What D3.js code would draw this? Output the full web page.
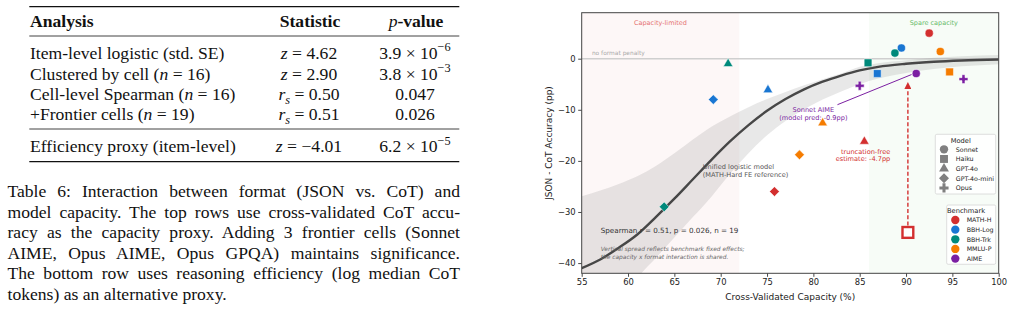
<!doctype html>
<html lang="en">
<head>
<meta charset="utf-8">
<title>Format x capacity interaction</title>
<script src="https://cdn.jsdelivr.net/npm/d3@7"></script>
<style>
  html, body { margin: 0; padding: 0; background: #fff; }
  svg { display: block; }
  .serif { font-family: "Liberation Serif", "Times New Roman", serif; fill: #111; }
  .sans { font-family: "DejaVu Sans", sans-serif; }
</style>
</head>
<body>
<svg id="fig" width="1013" height="318"></svg>
<script>
// ---------------- table (segments: [text, kind]) ----------------
const tableHeader = [
  [["Analysis", "b"]],
  [["Statistic", "b"]],
  [["p", "i"], ["-value", "b"]]
];
const analysisCol = [
  [["Item-level logistic (std. SE)"]],
  [["Clustered by cell ("], ["n", "i"], [" = 16)"]],
  [["Cell-level Spearman ("], ["n", "i"], [" = 16)"]],
  [["+Frontier cells ("], ["n", "i"], [" = 19)"]],
  [["Efficiency proxy (item-level)"]]
];
const statisticCol = [
  [["z", "i"], [" = 4.62"]],
  [["z", "i"], [" = 2.90"]],
  [["r", "i"], ["s", "subi"], [" = 0.50"]],
  [["r", "i"], ["s", "subi"], [" = 0.51"]],
  [["z", "i"], [" = \u22124.01"]]
];
const pvalueCol = [
  [["3.9 \u00d7 10"], ["\u22126", "sup"]],
  [["3.8 \u00d7 10"], ["\u22123", "sup"]],
  [["0.047"]],
  [["0.026"]],
  [["6.2 \u00d7 10"], ["\u22125", "sup"]]
];
const captionLines = [
  "Table 6: Interaction between format (JSON vs. CoT) and",
  "model capacity. The top rows use cross-validated CoT accu-",
  "racy as the capacity proxy. Adding 3 frontier cells (Sonnet",
  "AIME, Opus AIME, Opus GPQA) maintains significance.",
  "The bottom row uses reasoning efficiency (log median CoT",
  "tokens) as an alternative proxy."
];

// ---------------- chart data ----------------
const benchmarks = ["MATH-H", "BBH-Log", "BBH-Trk", "MMLU-P", "AIME"];
const benchColors = ["#d32f2f", "#1976d2", "#00897b", "#f57c00", "#7b1fa2"];
const models = ["Sonnet", "Haiku", "GPT-4o", "GPT-4o-mini", "Opus"];

// one entry per (model, benchmark) cell
const cellModel = ["Sonnet", "Sonnet", "Sonnet", "Sonnet", "Sonnet",
                   "Haiku", "Haiku", "Haiku",
                   "GPT-4o", "GPT-4o", "GPT-4o", "GPT-4o",
                   "GPT-4o-mini", "GPT-4o-mini", "GPT-4o-mini", "GPT-4o-mini",
                   "Opus", "Opus"];
const cellBench = ["MATH-H", "BBH-Log", "BBH-Trk", "MMLU-P", "AIME",
                   "BBH-Trk", "BBH-Log", "MMLU-P",
                   "BBH-Trk", "BBH-Log", "MMLU-P", "MATH-H",
                   "BBH-Log", "BBH-Trk", "MATH-H", "MMLU-P",
                   "AIME", "AIME"];
const cellCapacity = [92.5, 89.5, 88.8, 93.7, 91.1,
                      85.9, 86.9, 94.7,
                      70.8, 75.1, 81.0, 85.5,
                      69.2, 63.9, 75.8, 78.5,
                      85.0, 96.2];
const cellDelta = [5.0, 2.1, 1.1, 1.4, -2.9,
                   -0.8, -2.9, -2.6,
                   -1.0, -6.1, -12.6, -16.2,
                   -8.0, -29.0, -26.0, -18.8,
                   -5.3, -4.0];

// truncated cell (Haiku MATH-H): observed and truncation-free estimate
const truncCapacity = 90.2;
const truncObserved = -34.0;
const truncFree = -4.7;

// unified logistic fit and its band
const fitX    = [55, 57, 59, 61, 63, 65, 67, 69, 71, 73, 75, 77, 79, 81, 83, 85, 87, 90, 93, 96, 100];
const fitY    = [-41.0, -39.3, -37.0, -34.4, -31.0, -27.4, -23.6, -19.8, -16.2, -13.0, -10.2, -7.9, -6.0, -4.5, -3.3, -2.3, -1.6, -1.0, -0.6, -0.35, -0.15];
const bandHi  = [-26.9, -25.8, -24.5, -23.0, -21.0, -18.5, -15.8, -13.3, -11.3, -9.5, -7.9, -6.5, -5.2, -4.0, -2.9, -1.6, -0.9, -0.3, 0.2, 0.5, 0.7];
const bandLo  = [-61, -55, -49, -43, -39, -35, -31, -27, -22.5, -18.5, -15.0, -12.2, -9.9, -8.0, -6.4, -5.0, -3.9, -2.8, -2.0, -1.5, -1.1];

const xTicks = [55, 60, 65, 70, 75, 80, 85, 90, 95, 100];
const yTicks = [-40, -30, -20, -10, 0];

const svg = d3.select("#fig");

// ================= TABLE =================
const T = { left: 30, statX: 309, pX: 415, fs: 17.6, ruleL: 29.3, ruleR: 459.3 };

function rich(textSel, segs, fs) {
  let shift = 0;
  segs.forEach(([t, k]) => {
    const ts = textSel.append("tspan").text(t);
    let target = 0;
    if (k === "i") ts.style("font-style", "italic");
    if (k === "b") ts.style("font-weight", "bold");
    if (k === "sup") { ts.attr("font-size", fs * 0.7); target = -fs * 0.42; }
    if (k === "subi") { ts.attr("font-size", fs * 0.7).style("font-style", "italic"); target = fs * 0.22; }
    if (target !== shift) ts.attr("dy", target - shift);
    shift = target;
  });
}

const tbl = svg.append("g").attr("class", "serif").attr("font-size", T.fs);

[[6.7, 1.3], [36, 0.8], [129, 0.8], [161.7, 1.3]].forEach(([yy, w]) => {
  tbl.append("line").attr("x1", T.ruleL).attr("x2", T.ruleR)
    .attr("y1", yy).attr("y2", yy).attr("stroke", "#111").attr("stroke-width", w);
});

const headY = 27.2;
rich(tbl.append("text").attr("x", T.left).attr("y", headY), tableHeader[0], T.fs);
rich(tbl.append("text").attr("x", T.statX + 1).attr("y", headY).attr("text-anchor", "middle"), tableHeader[1], T.fs);
rich(tbl.append("text").attr("x", T.pX + 1).attr("y", headY).attr("text-anchor", "middle"), tableHeader[2], T.fs);

const rowY = [58.8, 79.6, 99.8, 120.4, 152.2];
analysisCol.forEach((segs, i) => {
  rich(tbl.append("text").attr("x", T.left).attr("y", rowY[i]), segs, T.fs);
  rich(tbl.append("text").attr("x", T.statX).attr("y", rowY[i]).attr("text-anchor", "middle"), statisticCol[i], T.fs);
  rich(tbl.append("text").attr("x", T.pX).attr("y", rowY[i]).attr("text-anchor", "middle"), pvalueCol[i], T.fs);
});

// caption, justified line by line
const capL = 7.5, capR = 460, capY0 = 197, capStep = 20.5;
const cap = svg.append("g").attr("class", "serif").attr("font-size", T.fs);
captionLines.forEach((line, i) => {
  const t = cap.append("text").attr("x", capL).attr("y", capY0 + i * capStep).text(line);
  if (i < captionLines.length - 1) {
    const w = t.node().getComputedTextLength();
    const gaps = line.split(" ").length - 1;
    t.style("word-spacing", ((capR - capL - w) / gaps) + "px");
  }
});

// ================= CHART =================
const x = d3.scaleLinear().domain([55, 100]).range([581.7, 998.7]);
const y = d3.scaleLinear().domain([-42, 9]).range([273.3, 12.7]);
const color = d3.scaleOrdinal().domain(benchmarks).range(benchColors);
const shape = d3.scaleOrdinal().domain(models)
  .range(["circle", "square", "triangle", "diamond", "plus"]);

const chart = svg.append("g").attr("class", "sans");

svg.append("defs").append("clipPath").attr("id", "plotclip")
  .append("rect").attr("x", x(55)).attr("y", y(9))
  .attr("width", x(100) - x(55)).attr("height", y(-42) - y(9));

const plot = chart.append("g").attr("clip-path", "url(#plotclip)");

// regime shading
plot.append("rect").attr("x", x(55)).attr("y", y(9))
  .attr("width", x(72) - x(55)).attr("height", y(-42) - y(9))
  .attr("fill", "#d32f2f").attr("fill-opacity", 0.04);
plot.append("rect").attr("x", x(86)).attr("y", y(9))
  .attr("width", x(100) - x(86)).attr("height", y(-42) - y(9))
  .attr("fill", "#4caf50").attr("fill-opacity", 0.045);

// zero reference
plot.append("line").attr("x1", x(55)).attr("x2", x(100))
  .attr("y1", y(0)).attr("y2", y(0))
  .attr("stroke", "#cfcfcf").attr("stroke-width", 1.6);

// band + fit
const fitPts = fitX.map((v, i) => ({ x: v, y: fitY[i], lo: bandLo[i], hi: bandHi[i] }));
plot.append("path").datum(fitPts)
  .attr("d", d3.area().x(d => x(d.x)).y0(d => y(d.lo)).y1(d => y(d.hi)).curve(d3.curveMonotoneX))
  .attr("fill", "#8a8a8a").attr("fill-opacity", 0.2);
plot.append("path").datum(fitPts)
  .attr("d", d3.line().x(d => x(d.x)).y(d => y(d.y)).curve(d3.curveMonotoneX))
  .attr("fill", "none").attr("stroke", "#474747").attr("stroke-width", 2.4);

// marker helper
function symbolPath(kind, s) {
  if (kind === "circle") return d3.symbol(d3.symbolCircle, 52 * s)();
  if (kind === "square") return d3.symbol(d3.symbolSquare, 60 * s)();
  if (kind === "triangle") return d3.symbol(d3.symbolTriangle, 40 * s)();
  if (kind === "diamond") return d3.symbol(d3.symbolSquare, 48 * s)();
  return d3.symbol(d3.symbolCross, 44 * s)();
}
function symbolRot(kind) { return kind === "diamond" ? " rotate(45)" : ""; }

// annotations under markers
const ann = plot.append("g");
ann.append("text").attr("x", x(63.5)).attr("y", y(6.5)).attr("text-anchor", "middle")
  .attr("font-size", 6.5).attr("fill", "#e57373").text("Capacity-limited");
ann.append("text").attr("x", x(93)).attr("y", y(6.5)).attr("text-anchor", "middle")
  .attr("font-size", 6.5).attr("fill", "#66bb6a").text("Spare capacity");
ann.append("text").attr("x", x(56.1)).attr("y", y(0.8))
  .attr("font-size", 5.9).attr("fill", "#aaa").text("no format penalty");

const fitNote = ann.append("text").attr("font-size", 6.6).attr("fill", "#555");
fitNote.append("tspan").attr("x", x(68.06)).attr("y", y(-21.6)).text("Unified logistic model");
fitNote.append("tspan").attr("x", x(68.06)).attr("y", y(-23.1)).text("(MATH-Hard FE reference)");

ann.append("text").attr("x", x(57.05)).attr("y", y(-34.1))
  .attr("font-size", 7.2).attr("fill", "#333").text("Spearman r = 0.51, p = 0.026, n = 19");
const spread = ann.append("text").attr("font-size", 5.9).attr("fill", "#666").style("font-style", "italic");
spread.append("tspan").attr("x", x(57.05)).attr("y", y(-37.7)).text("Vertical spread reflects benchmark fixed effects;");
spread.append("tspan").attr("x", x(57.05)).attr("y", y(-39.2)).text("the capacity x format interaction is shared.");

// Sonnet AIME callout
ann.append("line").attr("x1", x(82.6)).attr("y1", y(-9.0)).attr("x2", x(90.6)).attr("y2", y(-3.1))
  .attr("stroke", "#7b1fa2").attr("stroke-width", 1);
const sa = ann.append("text").attr("font-size", 6.6).attr("fill", "#7b1fa2").attr("text-anchor", "middle");
sa.append("tspan").attr("x", x(80.0)).attr("y", y(-10.5)).text("Sonnet AIME");
sa.append("tspan").attr("x", x(80.0)).attr("y", y(-11.95)).text("(model pred: -0.9pp)");

// truncation arrow
svg.select("defs").append("marker").attr("id", "redhead")
  .attr("viewBox", "0 0 10 10").attr("refX", 9).attr("refY", 5)
  .attr("markerWidth", 5).attr("markerHeight", 5).attr("orient", "auto")
  .append("path").attr("d", "M0,0 L10,5 L0,10 z").attr("fill", "#d32f2f");
ann.append("line").attr("x1", x(truncCapacity)).attr("x2", x(truncCapacity))
  .attr("y1", y(truncObserved) - 7).attr("y2", y(truncFree))
  .attr("stroke", "#d32f2f").attr("stroke-width", 1.4).attr("stroke-dasharray", "4,2.2")
  .attr("marker-end", "url(#redhead)");
const tf = ann.append("text").attr("font-size", 6.6).attr("fill", "#d32f2f").attr("text-anchor", "end");
tf.append("tspan").attr("x", x(88.3)).attr("y", y(-18.6)).text("truncation-free");
tf.append("tspan").attr("x", x(88.3)).attr("y", y(-20.05)).text("estimate: -4.7pp");

// cells
const cells = cellCapacity.map((c, i) => ({ c, d: cellDelta[i], m: cellModel[i], b: cellBench[i] }));
plot.append("g").selectAll("path").data(cells).enter().append("path")
  .attr("transform", d => `translate(${x(d.c)},${y(d.d)})` + symbolRot(shape(d.m)))
  .attr("d", d => symbolPath(shape(d.m), 1))
  .attr("fill", d => color(d.b))
  .attr("stroke", "#fff").attr("stroke-width", 0.5);

// truncated observation (hollow)
plot.append("rect")
  .attr("x", x(truncCapacity) - 5.4).attr("y", y(truncObserved) - 5.4)
  .attr("width", 10.8).attr("height", 10.8)
  .attr("fill", "#fff").attr("stroke", "#d32f2f").attr("stroke-width", 2.4);

// axes
const xAxis = chart.append("g").attr("transform", `translate(0,${y(-42)})`)
  .call(d3.axisBottom(x).tickValues(xTicks).tickSize(3.5).tickPadding(2.5).tickSizeOuter(0));
const yAxis = chart.append("g").attr("transform", `translate(${x(55)},0)`)
  .call(d3.axisLeft(y).tickValues(yTicks).tickSize(3.5).tickPadding(2.5).tickSizeOuter(0));
[xAxis, yAxis].forEach(a => {
  a.select(".domain").remove();
  a.selectAll(".tick line").attr("stroke", "#333").attr("stroke-width", 0.9);
  a.selectAll(".tick text").attr("font-family", "DejaVu Sans, sans-serif")
    .attr("font-size", 8.4).attr("fill", "#222");
});

chart.append("rect").attr("x", x(55)).attr("y", y(9))
  .attr("width", x(100) - x(55)).attr("height", y(-42) - y(9))
  .attr("fill", "none").attr("stroke", "#444").attr("stroke-width", 1);

chart.append("text").attr("x", (x(55) + x(100)) / 2).attr("y", 300)
  .attr("text-anchor", "middle").attr("font-size", 9).attr("fill", "#222")
  .text("Cross-Validated Capacity (%)");
chart.append("text").attr("transform", `translate(551.5,${(y(9) + y(-42)) / 2}) rotate(-90)`)
  .attr("text-anchor", "middle").attr("font-size", 9).attr("fill", "#222")
  .text("JSON - CoT Accuracy (pp)");

// legends
function legend(title, labels, box, markerFor, fillFor) {
  const g = chart.append("g");
  g.append("rect").attr("x", box.x).attr("y", box.y).attr("width", box.w).attr("height", box.h)
    .attr("rx", 1.5).attr("fill", "#fff").attr("fill-opacity", 0.85)
    .attr("stroke", "#d6d6d6").attr("stroke-width", 0.8);
  g.append("text").attr("x", box.x + box.titleX).attr("y", box.y + 8.2)
    .attr("text-anchor", "middle").attr("font-size", 6.7).attr("fill", "#222").text(title);
  labels.forEach((lab, i) => {
    const yy = box.y + 15 + i * 9.65;
    const k = markerFor(lab);
    g.append("path").attr("transform", `translate(${box.x + box.mx},${yy})` + symbolRot(k))
      .attr("d", symbolPath(k, 1.05)).attr("fill", fillFor(lab));
    g.append("text").attr("x", box.x + box.tx).attr("y", yy + 2.3)
      .attr("font-size", 6.3).attr("fill", "#222").text(lab);
  });
}
legend("Model", models, { x: 935.3, y: 134.3, w: 60.4, h: 59.7, titleX: 25.5, mx: 8.7, tx: 20.5 },
  m => shape(m), () => "#808080");
legend("Benchmark", benchmarks, { x: 946.7, y: 205, w: 49, h: 59.3, titleX: 19.3, mx: 8.6, tx: 20 },
  () => "circle", b => color(b));
</script>
</body>
</html>
